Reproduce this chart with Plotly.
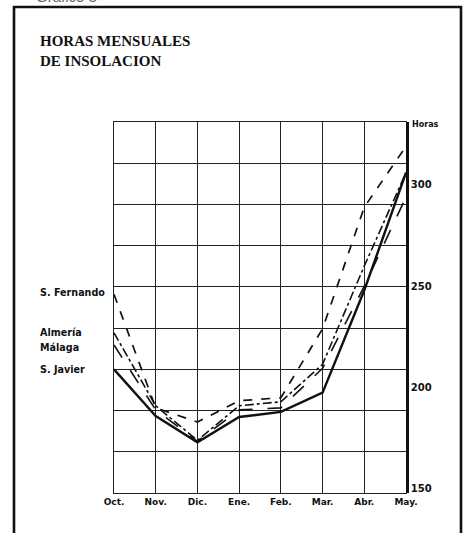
import plotly.graph_objects as go

# Monthly sunshine hours, October to May
months = ["Oct.", "Nov.", "Dic.", "Ene.", "Feb.", "Mar.", "Abr.", "May."]
san_fernando = [246, 190, 183, 193.5, 195, 229, 289, 319]
almeria = [227, 191, 174, 191, 193, 211.5, 260, 306]
malaga = [221, 189, 173.5, 189, 190, 209.5, 250, 294]
san_javier = [209, 186, 173, 185.5, 188, 197.5, 248, 306]
hour_ticks = [150, 200, 250, 300]

series = [
    ("S. Fernando", san_fernando, "dash", 1.7),
    ("Almería", almeria, "dashdot", 1.6),
    ("Málaga", malaga, "longdash", 1.6),
    ("S. Javier", san_javier, "solid", 2.4),
]

W, H = 467, 533
L, R, T, B = 114, 406, 122, 493
Y0, Y1 = 148, 331


def px(x):
    return (x - L) / (R - L)


def py(y):
    return (B - y) / (B - T)


xs = list(range(len(months)))
fig = go.Figure()
for name, vals, dash, w in series:
    fig.add_trace(go.Scatter(
        x=xs, y=vals, mode="lines", name=name,
        line=dict(color="#111", width=w, dash=dash),
        showlegend=False,
    ))

# invisible trace bound to the right-hand hours axis
fig.add_trace(go.Scatter(x=[0], y=[Y0], yaxis="y2", mode="markers",
                         marker=dict(opacity=0), showlegend=False,
                         hoverinfo="skip"))

grid_rows = [Y0 + i * (Y1 - Y0) / 9 for i in range(10)]
bold = dict(family="DejaVu Sans", size=9, color="#111", weight="bold")
label_font = dict(family="DejaVu Sans", size=9.6, color="#111", weight="bold")

fig.update_layout(
    width=W, height=H, autosize=False,
    margin=dict(l=L, r=W - R, t=T, b=H - B, pad=0),
    paper_bgcolor="white", plot_bgcolor="white",
    xaxis=dict(
        range=[0, len(months) - 1], tickvals=xs, ticktext=months,
        showgrid=True, gridcolor="#222", gridwidth=1.3,
        zeroline=False, showline=True, linecolor="#222", linewidth=1.4,
        mirror=True, ticks="", tickfont=bold,
    ),
    yaxis=dict(
        range=[Y0, Y1], tickvals=grid_rows, showticklabels=False,
        showgrid=True, gridcolor="#222", gridwidth=1.3,
        zeroline=False, showline=True, linecolor="#222", linewidth=1.4,
        mirror=True, ticks="",
    ),
    yaxis2=dict(
        range=[Y0, Y1], overlaying="y", side="right",
        tickvals=hour_ticks, ticktext=[str(v) for v in hour_ticks],
        showgrid=False, zeroline=False, showline=True,
        linecolor="#111", linewidth=2.6, ticks="",
        tickfont=dict(family="DejaVu Sans", size=10, color="#111", weight="bold"),
    ),
    shapes=[
        dict(type="rect", xref="paper", yref="paper",
             x0=px(14), x1=px(461), y0=py(560), y1=py(7),
             line=dict(color="#111", width=2.6), layer="below"),
    ],
)

annotations = [
    dict(text="HORAS MENSUALES<br>DE INSOLACION", x=px(38), y=py(31),
         xanchor="left", yanchor="top", align="left",
         font=dict(family="Liberation Serif", size=15, color="#111", weight="bold")),
    dict(text="Horas", x=px(410), y=py(124), xanchor="left", yanchor="middle",
         font=dict(family="DejaVu Sans", size=8, color="#111", weight="bold")),
    dict(text="Gráfico 3", x=px(34), y=py(7), xanchor="left", yanchor="bottom",
         font=dict(family="Liberation Sans", size=15, color="#666")),
]
for name, y in [("S. Fernando", 292), ("Almería", 332), ("Málaga", 347), ("S. Javier", 369)]:
    annotations.append(dict(text=name, x=px(38), y=py(y), xanchor="left",
                            yanchor="middle", font=label_font))
for a in annotations:
    a.update(xref="paper", yref="paper", showarrow=False)
fig.update_layout(annotations=annotations)

fig.write_html("out.html")
